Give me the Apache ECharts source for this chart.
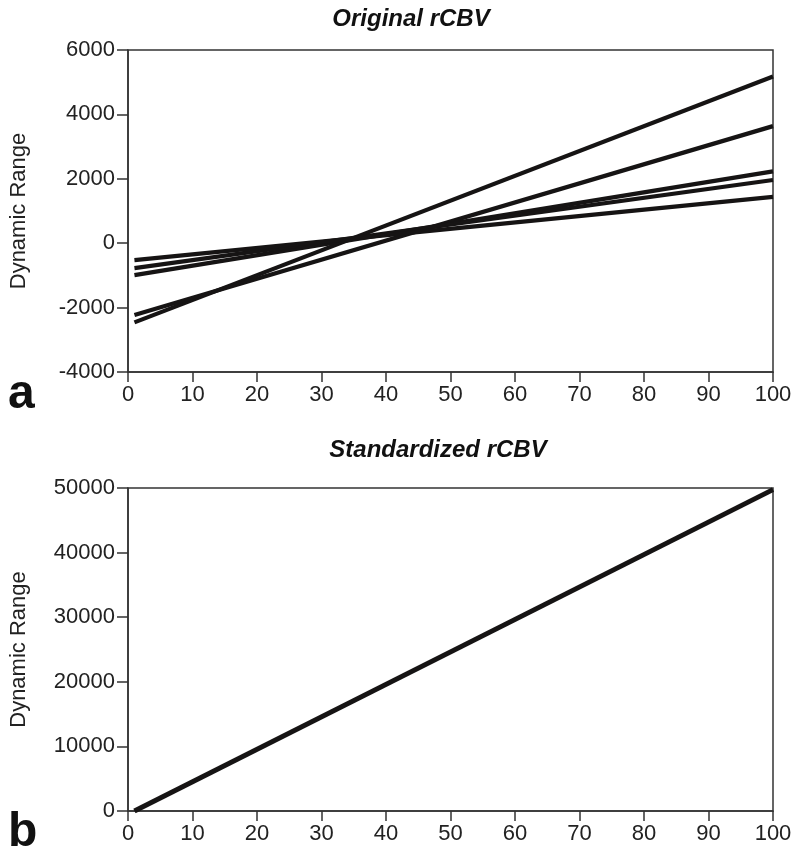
<!DOCTYPE html>
<html>
<head>
<meta charset="utf-8">
<script src="https://cdn.jsdelivr.net/npm/echarts@6/dist/echarts.min.js"></script>
<style>
  html, body { margin: 0; padding: 0; background: #fff; }
  #chart { width: 800px; height: 859px; }
</style>
</head>
<body>
<div id="chart"></div>
<script>
// x positions of the line end points
var xPoints = [1, 100]

// panel a: original rCBV, one line per subject
var originalLines = [
  [-2459, 5176],
  [-2231, 3636],
  [-992, 2231],
  [-775, 1963],
  [-527, 1436]
]

// panel b: standardized rCBV (all lines coincide)
var standardLines = [
  [0, 49750]
]

var xTicks = [0, 10, 20, 30, 40, 50, 60, 70, 80, 90, 100]

var font = 'Liberation Sans, Arial, sans-serif'
var ink = '#161414'
var axisColor = '#333'

var chart = echarts.init(document.getElementById('chart'))

function pairs (vals) {
  return xPoints.map(function (x, i) { return [x, vals[i]] })
}

// plain numbers, no thousands separator
function plain (v) {
  return String(v)
}

function xAxisFor (gridIndex) {
  return {
    type: 'value',
    gridIndex: gridIndex,
    min: xTicks[0],
    max: xTicks[xTicks.length - 1],
    interval: xTicks[1] - xTicks[0],
    axisLine: { onZero: false, lineStyle: { color: axisColor, width: 1.5 } },
    axisTick: { show: true, length: 10, lineStyle: { color: axisColor, width: 1.5 } },
    axisLabel: { color: '#222', fontSize: 22, fontFamily: font, margin: 12, formatter: plain },
    splitLine: { show: false }
  }
}

function yAxisFor (gridIndex, min, max, interval) {
  return {
    type: 'value',
    gridIndex: gridIndex,
    min: min,
    max: max,
    interval: interval,
    name: 'Dynamic Range',
    nameLocation: 'middle',
    nameGap: 98,
    nameTextStyle: { color: '#222', fontSize: 22, fontFamily: font },
    axisLine: { show: true, lineStyle: { color: axisColor, width: 1.5 } },
    axisTick: { show: true, length: 11, lineStyle: { color: axisColor, width: 1.5 } },
    axisLabel: { color: '#222', fontSize: 22, fontFamily: font, margin: 13, formatter: plain },
    splitLine: { show: false }
  }
}

var series = []
originalLines.forEach(function (vals) {
  series.push({
    type: 'line',
    xAxisIndex: 0,
    yAxisIndex: 0,
    data: pairs(vals),
    symbol: 'none',
    lineStyle: { color: ink, width: 4.2 },
    animation: false
  })
})
standardLines.forEach(function (vals) {
  series.push({
    type: 'line',
    xAxisIndex: 1,
    yAxisIndex: 1,
    data: pairs(vals),
    symbol: 'none',
    lineStyle: { color: ink, width: 5 },
    animation: false
  })
})

chart.setOption({
  backgroundColor: '#fff',
  grid: [
    { left: 128, right: 27, top: 50, height: 322, show: true, borderColor: axisColor, borderWidth: 1.5 },
    { left: 128, right: 27, top: 488, height: 323, show: true, borderColor: axisColor, borderWidth: 1.5 }
  ],
  xAxis: [xAxisFor(0), xAxisFor(1)],
  yAxis: [
    yAxisFor(0, -4000, 6000, 2000),
    yAxisFor(1, 0, 50000, 10000)
  ],
  graphic: [
    {
      type: 'text', x: 411, y: 19,
      style: { text: 'Original rCBV', font: 'italic bold 24px ' + font, fill: '#111', textAlign: 'center', textVerticalAlign: 'middle' }
    },
    {
      type: 'text', x: 438, y: 450,
      style: { text: 'Standardized rCBV', font: 'italic bold 24px ' + font, fill: '#111', textAlign: 'center', textVerticalAlign: 'middle' }
    },
    {
      type: 'text', x: 8, y: 395,
      style: { text: 'a', font: 'bold 48px ' + font, fill: '#111', textAlign: 'left', textVerticalAlign: 'middle' }
    },
    {
      type: 'text', x: 8, y: 833,
      style: { text: 'b', font: 'bold 48px ' + font, fill: '#111', textAlign: 'left', textVerticalAlign: 'middle' }
    }
  ],
  series: series
})
</script>
</body>
</html>
